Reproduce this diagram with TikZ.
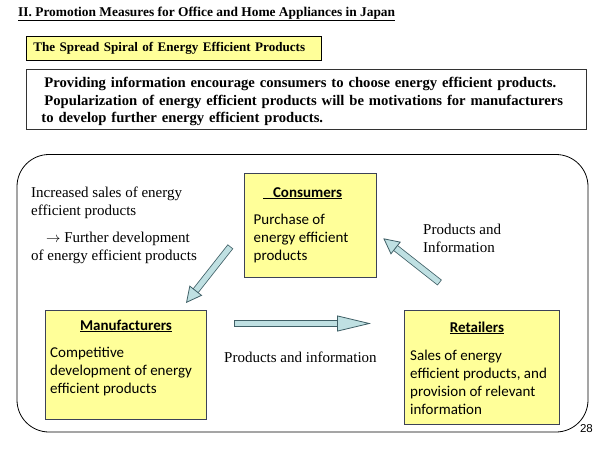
\documentclass[tikz,border=0pt]{standalone}
\usepackage{fontspec}
\setmainfont{Liberation Serif}
\newfontfamily\boxfont{Carlito}
\newfontfamily\numfont{Liberation Sans}
\usetikzlibrary{arrows.meta,positioning}
\definecolor{boxyellow}{HTML}{FFFF99}
\definecolor{boxline}{HTML}{3C4258}
\definecolor{flowfill}{HTML}{BFE0E2}
\definecolor{flowline}{HTML}{3F5F66}
\tikzset{
	yellowbox/.style={draw=boxline,fill=boxyellow,line width=0.9pt,anchor=north west,inner sep=0pt},
	heading/.style={font=\boxfont\fontsize{15}{18}\selectfont\bfseries,inner sep=0pt,anchor=base},
	bodytext/.style={font=\boxfont\fontsize{15}{18}\selectfont,align=left,inner sep=0pt,anchor=north west},
	plaintext/.style={font=\fontsize{15}{18}\selectfont,align=left,inner sep=0pt,anchor=base west},
	flowarrow/.style={line width=5.4pt,draw=flowfill,shorten <=0.8pt,
		-{Triangle[length=#1,width=16pt,fill=flowfill,color=flowline,line width=0.8pt]},
		preaction={draw=flowline,line width=7pt,-,shorten <=0pt,shorten >=#1-3pt}},
	flowarrow/.default=16pt
}
\begin{document}
\begin{tikzpicture}[x=1pt,y=-1pt]
	\useasboundingbox (0,0) rectangle (600,450);
	\node[font=\fontsize{13.4}{15}\selectfont\bfseries,inner sep=0pt,anchor=base west] (title) at (18,16) {\underline{II. Promotion Measures for Office and Home Appliances in Japan}};
	\node[yellowbox,draw=black,minimum height=24pt,text width=280pt,inner xsep=7.5pt,align=left,font=\fontsize{13.1}{15}\selectfont\bfseries] (spiral) at (25.5,36) {The Spread Spiral of Energy Efficient Products};
	\node[draw=black!80,line width=0.9pt,anchor=north west,minimum height=60pt,text width=530pt,inner xsep=15pt,inner ysep=0pt,align=left,font=\fontsize{14.65}{17.6}\selectfont\bfseries] (summary) at (26,69) {\rule{0pt}{15pt}\hspace*{3pt}Providing information encourage consumers to choose energy efficient products.\\
		\hspace*{3pt}Popularization of energy efficient products will be motivations for manufacturers\\
		to develop further energy efficient products.};

	\draw[line width=0.8pt,rounded corners=32pt] (17,154.5) rectangle (588,432);

	\node[yellowbox,minimum width=132pt,minimum height=104.5pt] (consumers) at (243.5,172.5) {};
	\node[yellowbox,minimum width=161pt,minimum height=108.5pt] (manufacturers) at (44.5,310) {};
	\node[yellowbox,minimum width=155pt,minimum height=113.5pt] (retailers) at (404,310) {};

	\node[heading] (consumershead) at (302.5,197) {\underline{\hspace{10pt}Consumers}};
	\node[heading] (manufacturershead) at (126,330) {\underline{Manufacturers}};
	\node[heading] (retailershead) at (477,332) {\underline{Retailers}};

	\node[bodytext,below right=41.5pt and 10pt of consumers.north west] (consumersbody) {Purchase of\\energy efficient\\products};
	\node[bodytext,below right=36.5pt and 5.5pt of manufacturers.north west] (manufacturersbody) {Competitive\\development of energy\\efficient products};
	\node[bodytext,below right=39.5pt and 6pt of retailers.north west] (retailersbody) {Sales of energy\\efficient products, and\\provision of relevant\\information};

	\node[plaintext] (increased) at (31,215) {Increased sales of energy\\efficient products};
	\node[plaintext] (further) at (31,260) {\hspace*{15pt}$\rightarrow$ Further development\\of energy efficient products};
	\node[plaintext] (productsright) at (423,252) {Products and\\Information};
	\node[plaintext] (productsbottom) at (224,362) {Products and information};
	\node[font=\numfont\fontsize{11.5}{13}\selectfont,inner sep=0pt,anchor=base east] (pagenum) at (593,432) {28};

	\coordinate (consumersout) at (230.5,246.5);
	\coordinate (manufacturersin) at (186,303);
	\coordinate (manufacturersout) at (234,323.5);
	\coordinate (retailersin) at (371,323.5);
	\coordinate (retailersout) at (439.7,282.7);
	\coordinate (consumersin) at (383.3,238.3);

	\draw[flowarrow] (consumersout) -- (manufacturersin);
	\draw[flowarrow=34pt] (manufacturersout) -- (retailersin);
	\draw[flowarrow] (retailersout) -- (consumersin);
\end{tikzpicture}
\end{document}
